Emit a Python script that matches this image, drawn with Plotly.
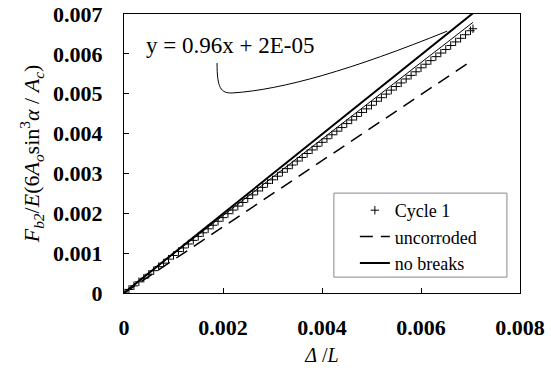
import plotly.graph_objects as go

# Cycle 1 measured points
cycle1_x = [0.0000, 0.0001, 0.0002, 0.0003, 0.0004, 0.0005, 0.0006, 0.0007, 0.0008, 0.0009,
            0.0010, 0.0011, 0.0012, 0.0013, 0.0014, 0.0015, 0.0016, 0.0017, 0.0018, 0.0019,
            0.0020, 0.0021, 0.0022, 0.0023, 0.0024, 0.0025, 0.0026, 0.0027, 0.0028, 0.0029,
            0.0030, 0.0031, 0.0032, 0.0033, 0.0034, 0.0035, 0.0036, 0.0037, 0.0038, 0.0039,
            0.0040, 0.0041, 0.0042, 0.0043, 0.0044, 0.0045, 0.0046, 0.0047, 0.0048, 0.0049,
            0.0050, 0.0051, 0.0052, 0.0053, 0.0054, 0.0055, 0.0056, 0.0057, 0.0058, 0.0059,
            0.0060, 0.0061, 0.0062, 0.0063, 0.0064, 0.0065, 0.0066, 0.0067, 0.0068, 0.0069,
            0.0070, 0.00705]
cycle1_y = [0.00000, 0.00009, 0.00018, 0.00028, 0.00037, 0.00047, 0.00056, 0.00066, 0.00075, 0.00085,
            0.00094, 0.00104, 0.00113, 0.00123, 0.00132, 0.00142, 0.00151, 0.00161, 0.00170, 0.00180,
            0.00189, 0.00199, 0.00208, 0.00218, 0.00227, 0.00237, 0.00246, 0.00256, 0.00265, 0.00275,
            0.00284, 0.00293, 0.00303, 0.00312, 0.00321, 0.00331, 0.00340, 0.00350, 0.00359, 0.00368,
            0.00378, 0.00387, 0.00397, 0.00406, 0.00415, 0.00425, 0.00434, 0.00443, 0.00453, 0.00462,
            0.00471, 0.00481, 0.00490, 0.00499, 0.00509, 0.00518, 0.00527, 0.00537, 0.00546, 0.00555,
            0.00565, 0.00574, 0.00583, 0.00593, 0.00602, 0.00611, 0.00621, 0.00630, 0.00639, 0.00648,
            0.00658, 0.00663]

# uncorroded (dashed) and no breaks (solid) reference lines
uncorroded_x = [0.0, 0.00705]
uncorroded_y = [0.0, 0.00585]
nobreaks_x = [0.0, 0.0071]
nobreaks_y = [0.0, 0.00707]

# trendline y = 0.96x + 2E-05
trend_x = [0.0, 0.00705]
trend_y = [0.00002, 0.00679]

# leader line of the equation label (data coords)
leader = "M 0.00188,0.00577 C 0.00188,0.00515 0.00195,0.00500 0.00220,0.00502 C 0.0032,0.00510 0.0046,0.0056 0.00653,0.00657"

x_ticks = [0, 0.002, 0.004, 0.006, 0.008]
x_ticklabels = ["0", "0.002", "0.004", "0.006", "0.008"]
y_ticks = [0, 0.001, 0.002, 0.003, 0.004, 0.005, 0.006, 0.007]
y_ticklabels = ["0", "0.001", "0.002", "0.003", "0.004", "0.005", "0.006", "0.007"]

FONT = "Liberation Serif, Times New Roman, serif"

fig = go.Figure()
fig.add_trace(go.Scatter(x=cycle1_x, y=cycle1_y, mode="markers", name="Cycle 1",
                         marker=dict(symbol="cross-thin", size=6, color="black",
                                     line=dict(width=1, color="black"))))
fig.add_trace(go.Scatter(x=uncorroded_x, y=uncorroded_y, mode="lines", name="uncorroded",
                         line=dict(color="black", width=1.5, dash="13px,8px")))
fig.add_trace(go.Scatter(x=nobreaks_x, y=nobreaks_y, mode="lines", name="no breaks",
                         line=dict(color="black", width=2)))
fig.add_trace(go.Scatter(x=trend_x, y=trend_y, mode="lines", showlegend=False,
                         line=dict(color="black", width=1)))

fig.add_shape(type="path", path=leader, xref="x", yref="y",
              line=dict(color="black", width=1))
# legend frame
fig.add_shape(type="rect", xref="paper", yref="paper", x0=0.530, x1=0.967, y0=0.057, y1=0.358,
              line=dict(color="#888888", width=1), fillcolor="white", layer="above")

fig.add_annotation(x=0.0004, y=0.0062, xref="x", yref="y", text="y = 0.96x + 2E-05",
                   showarrow=False, xanchor="left", yanchor="middle",
                   font=dict(family=FONT, size=23, color="black"))

fig.update_layout(
    template="none",
    width=551, height=368,
    margin=dict(l=124, r=31, t=14, b=75),
    paper_bgcolor="white", plot_bgcolor="white",
    font=dict(family=FONT, color="black"),
    showlegend=True,
    legend=dict(x=0.583, y=0.362, xanchor="left", yanchor="top",
                bgcolor="rgba(0,0,0,0)", borderwidth=0,
                font=dict(family=FONT, size=18, color="black"),
                tracegroupgap=0, itemwidth=30),
)
fig.update_xaxes(range=[0, 0.008], tickvals=x_ticks, ticktext=x_ticklabels, automargin=False,
                 ticks="inside", ticklen=5, tickcolor="black",
                 showline=True, linecolor="black", linewidth=1, mirror=True,
                 showgrid=False, zeroline=False, ticklabelstandoff=15,
                 tickfont=dict(family=FONT, size=22, color="black", weight="bold"),
                 title=dict(text="<i>Δ</i> /<i>L</i>", standoff=8,
                            font=dict(family=FONT, size=20, color="black")))
fig.update_yaxes(range=[0, 0.007], tickvals=y_ticks, ticktext=y_ticklabels, automargin=False,
                 ticks="inside", ticklen=5, tickcolor="black",
                 showline=True, linecolor="black", linewidth=1, mirror=True,
                 showgrid=False, zeroline=False, ticklabelstandoff=16,
                 tickfont=dict(family=FONT, size=22, color="black", weight="bold"),
                 title=dict(text="<i>F</i><sub><i>b2</i></sub>/<i>E</i>(6<i>A</i><sub><i>o</i></sub>sin<sup>3</sup><i>α</i> / <i>A</i><sub><i>c</i></sub>)",
                            standoff=7, font=dict(family=FONT, size=22, color="black")))

# remove the browser's default 8px body margin so the figure fills the window
fig.write_html("out.html", config={"displayModeBar": False},
               post_script="document.body.style.margin='0';")
